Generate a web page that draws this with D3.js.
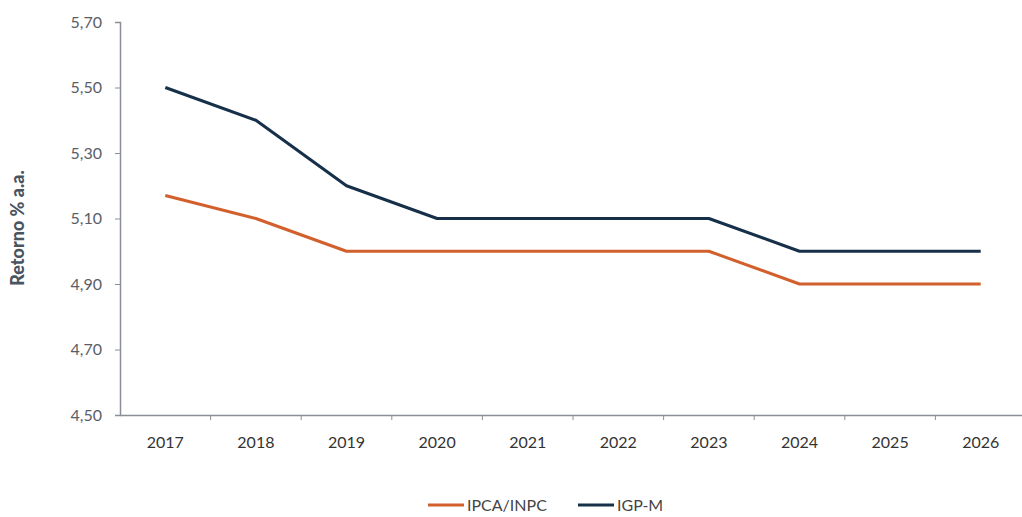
<!DOCTYPE html>
<meta charset="utf-8">
<script src="https://d3js.org/d3.v7.min.js"></script>
<style>
  body { margin: 0; background: #fff; }
  text { font-family: Lato, "Open Sans", sans-serif; }
</style>
<div id="chart"></div>
<script>
// data
var years = ["2017","2018","2019","2020","2021","2022","2023","2024","2025","2026"];
var ipca = [5.17, 5.10, 5.00, 5.00, 5.00, 5.00, 5.00, 4.90, 4.90, 4.90];
var igpm = [5.50, 5.40, 5.20, 5.10, 5.10, 5.10, 5.10, 5.00, 5.00, 5.00];
var yTicks = [4.50, 4.70, 4.90, 5.10, 5.30, 5.50, 5.70];

var width = 1022, height = 517;

var svg = d3.select("#chart").append("svg")
  .attr("width", width)
  .attr("height", height);

var x = d3.scaleBand()
  .domain(years)
  .range([120, 1026]);

var y = d3.scaleLinear()
  .domain([4.5, 5.7])
  .range([415, 22]);

var fmt = function(d) { return d3.format(".2f")(d).replace(".", ","); };

// y axis
var yAxis = svg.append("g")
  .attr("transform", "translate(120,0)")
  .call(d3.axisLeft(y).tickValues(yTicks).tickFormat(fmt).tickSize(5).tickPadding(13));
yAxis.select(".domain").attr("stroke", "#8a8f96").attr("stroke-width", 1.5);
yAxis.selectAll(".tick line").attr("stroke", "#8a8f96");
yAxis.selectAll("text").attr("fill", "#5a5e66").style("font-size", "16px");

// x axis
var xAxis = svg.append("g")
  .attr("transform", "translate(0,415)")
  .call(d3.axisBottom(x).tickSize(0).tickPadding(22));
xAxis.select(".domain").attr("stroke", "#8a8f96").attr("stroke-width", 1.5);
xAxis.selectAll("text").attr("fill", "#333").style("font-size", "16px");

// category separators on the x axis
svg.append("g").selectAll("line")
  .data(years.slice(1))
  .enter().append("line")
  .attr("x1", function(d) { return x(d); })
  .attr("x2", function(d) { return x(d); })
  .attr("y1", 415)
  .attr("y2", 420)
  .attr("stroke", "#8a8f96");

// y label
svg.append("text")
  .attr("transform", "translate(24,228) rotate(-90)")
  .attr("text-anchor", "middle")
  .attr("fill", "#4a5360")
  .style("font-size", "18px")
  .style("font-weight", "900")
  .text("Retorno % a.a.");

var line = d3.line()
  .x(function(d, i) { return x(years[i]) + x.bandwidth() / 2; })
  .y(function(d) { return y(d); });

var series = [
  {name: "IPCA/INPC", values: ipca, color: "#d2602c"},
  {name: "IGP-M", values: igpm, color: "#17304a"}
];

svg.selectAll(".series")
  .data(series)
  .enter().append("path")
  .attr("class", "series")
  .attr("d", function(d) { return line(d.values); })
  .attr("fill", "none")
  .attr("stroke", function(d) { return d.color; })
  .attr("stroke-width", 3)
  .attr("stroke-linejoin", "round");

// legend
var legendX = [428, 578];
var leg = svg.selectAll(".legend")
  .data(series)
  .enter().append("g")
  .attr("transform", function(d, i) { return "translate(" + legendX[i] + ",505)"; });
leg.append("line")
  .attr("x1", 0).attr("x2", 36)
  .attr("stroke", function(d) { return d.color; })
  .attr("stroke-width", 3);
leg.append("text")
  .attr("x", 39)
  .attr("dy", "0.35em")
  .attr("fill", "#444")
  .style("font-size", "16px")
  .text(function(d) { return d.name; });
</script>
